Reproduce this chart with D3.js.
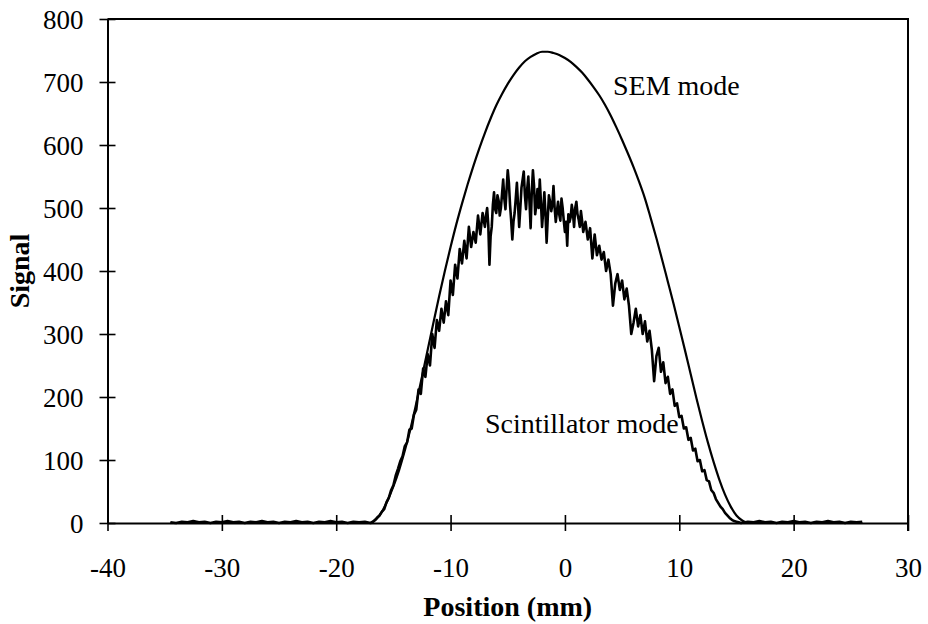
<!DOCTYPE html>
<html>
<head>
<meta charset="utf-8">
<script src="https://cdn.jsdelivr.net/npm/d3@7/dist/d3.min.js"></script>
<style>
  body { margin: 0; background: #fff; }
  text { font-family: "Liberation Serif", "Times New Roman", serif; fill: #000; }
</style>
</head>
<body>
<div id="chart"></div>
<script>
// axis ticks
const xTicks = [-40, -30, -20, -10, 0, 10, 20, 30]
const yTicks = [0, 100, 200, 300, 400, 500, 600, 700, 800]

// SEM mode profile, [position mm, signal]
const semData = [
  [-34.5, 0], [-30, 0], [-25, 0], [-20, 0], [-17, 0], [-16.5, 6], [-16, 18], [-15.5, 36],
  [-15, 58], [-14.5, 84], [-14, 115], [-13.5, 150], [-13, 190], [-12.5, 232], [-12, 275],
  [-11.5, 318], [-11, 360], [-10.5, 400], [-10, 438], [-9.5, 474], [-9, 507], [-8.5, 538],
  [-8, 567], [-7.5, 594], [-7, 619], [-6.5, 642], [-6, 663], [-5.5, 681], [-5, 697],
  [-4.5, 711], [-4, 723], [-3.5, 733], [-3, 740], [-2.5, 745], [-2, 748], [-1.5, 748],
  [-1, 746], [-0.5, 743], [0, 738], [0.5, 732], [1, 724], [1.5, 715], [2, 704], [2.5, 692],
  [3, 679], [3.5, 664], [4, 647], [4.5, 628], [5, 608], [5.5, 587], [6, 565], [6.5, 541],
  [7, 515], [7.5, 484], [8, 452], [8.5, 418], [9, 383], [9.5, 348], [10, 311], [10.5, 274],
  [11, 236], [11.5, 198], [12, 162], [12.5, 128], [13, 97], [13.5, 69], [14, 45], [14.5, 26],
  [15, 12], [15.5, 4], [16, 0], [20, 0], [26, 0]
]

// Scintillator mode profile (noisy), [position mm, signal]
const scintData = [
  [-34.5, 1], [-34, 0], [-33.5, 2], [-33, 1], [-32.5, 3], [-32, 1], [-31.5, 2], [-31, 0],
  [-30.5, 2], [-30, 1], [-29.5, 3], [-29, 1], [-28.5, 2], [-28, 0], [-27.5, 2], [-27, 1],
  [-26.5, 3], [-26, 1], [-25.5, 2], [-25, 0], [-24.5, 2], [-24, 1], [-23.5, 3], [-23, 1],
  [-22.5, 2], [-22, 0], [-21.5, 2], [-21, 1], [-20.5, 3], [-20, 1], [-19.5, 2], [-19, 0],
  [-18.5, 2], [-18, 1], [-17.5, 2], [-17.0, 0],
  [-16.8, 2], [-16.6, 5], [-16.4, 9], [-16.2, 12], [-16.0, 18], [-15.8, 22], [-15.6, 33],
  [-15.4, 40], [-15.2, 52], [-15.0, 60], [-14.8, 75], [-14.6, 86], [-14.4, 98], [-14.2, 106],
  [-14.0, 122], [-13.8, 128], [-13.6, 148], [-13.4, 150], [-13.2, 172], [-13.0, 180],
  [-12.8, 212], [-12.6, 205], [-12.4, 245], [-12.2, 232], [-12.0, 268], [-11.8, 250],
  [-11.6, 300], [-11.4, 278], [-11.2, 322], [-11.0, 305], [-10.8, 340], [-10.6, 318],
  [-10.4, 352], [-10.2, 330], [-10.0, 385], [-9.8, 362], [-9.6, 410], [-9.4, 388],
  [-9.2, 435], [-9.0, 412], [-8.8, 448], [-8.6, 420], [-8.4, 470], [-8.2, 438],
  [-8.0, 462], [-7.8, 445], [-7.6, 488], [-7.4, 458], [-7.2, 492], [-7.0, 470],
  [-6.9, 488], [-6.8, 500], [-6.7, 472], [-6.6, 410], [-6.5, 455], [-6.4, 470],
  [-6.3, 505], [-6.2, 525], [-6.1, 498], [-6.0, 492], [-5.9, 520], [-5.8, 512],
  [-5.7, 488], [-5.6, 500], [-5.5, 522], [-5.4, 545], [-5.3, 515], [-5.2, 498],
  [-5.1, 530], [-5.0, 560], [-4.9, 540], [-4.8, 505], [-4.7, 480], [-4.6, 450],
  [-4.5, 478], [-4.4, 492], [-4.3, 515], [-4.2, 540], [-4.1, 505], [-4.0, 470],
  [-3.9, 500], [-3.8, 532], [-3.7, 545], [-3.6, 558], [-3.5, 520], [-3.4, 498],
  [-3.3, 530], [-3.2, 550], [-3.1, 510], [-3.0, 468], [-2.9, 525], [-2.8, 560],
  [-2.7, 535], [-2.6, 490], [-2.5, 505], [-2.4, 530], [-2.3, 500], [-2.2, 545],
  [-2.1, 510], [-2.0, 470], [-1.9, 495], [-1.8, 525], [-1.7, 490], [-1.6, 445],
  [-1.5, 485], [-1.4, 520], [-1.3, 510], [-1.2, 495], [-1.1, 505], [-1.0, 535],
  [-0.9, 500], [-0.8, 478], [-0.7, 495], [-0.6, 510], [-0.5, 490], [-0.4, 480],
  [-0.3, 515], [-0.2, 500], [-0.1, 480], [0.0, 462], [0.1, 478], [0.2, 440],
  [0.3, 490], [0.4, 478], [0.5, 485], [0.6, 505], [0.7, 492], [0.8, 470],
  [0.9, 500], [1.0, 510], [1.1, 490], [1.2, 482], [1.3, 470], [1.4, 495],
  [1.5, 480], [1.6, 462], [1.8, 478], [2.0, 450], [2.2, 468], [2.4, 420], [2.6, 458],
  [2.8, 425], [3.0, 440], [3.2, 418], [3.4, 430], [3.6, 400], [3.8, 418],
  [4.0, 395], [4.2, 345], [4.4, 380], [4.6, 395], [4.8, 370], [5.0, 385],
  [5.2, 355], [5.4, 372], [5.6, 345], [5.8, 300], [6.0, 318], [6.2, 340],
  [6.4, 312], [6.6, 330], [6.8, 300], [7.0, 320], [7.2, 288], [7.4, 305],
  [7.6, 275], [7.8, 225], [8.0, 265], [8.2, 278], [8.4, 240], [8.6, 255],
  [8.8, 222], [9.0, 232], [9.2, 205], [9.4, 212], [9.6, 186], [9.8, 190],
  [10.0, 168], [10.2, 170], [10.4, 150], [10.6, 152], [10.8, 132], [11.0, 135],
  [11.2, 115], [11.4, 118], [11.6, 98], [11.8, 100], [12.0, 82], [12.2, 84],
  [12.4, 68], [12.6, 66], [12.8, 52], [13.0, 48], [13.2, 38], [13.4, 32],
  [13.6, 26], [13.8, 22], [14.0, 16], [14.2, 12], [14.4, 8], [14.6, 5],
  [14.8, 3], [15.0, 2], [15.2, 1], [15.4, 0],
  [16, 2], [16.5, 1], [17, 3], [17.5, 1], [18, 2], [18.5, 0], [19, 2], [19.5, 1],
  [20, 3], [20.5, 1], [21, 2], [21.5, 0], [22, 2], [22.5, 1], [23, 3], [23.5, 1],
  [24, 2], [24.5, 0], [25, 2], [25.5, 1], [26, 2]
]

// set Dimension
const dim = { width: 928, height: 624, left: 107.5, right: 908, top: 19, bottom: 523 }

const svg = d3.select('#chart')
  .append('svg')
  .attr('width', dim.width)
  .attr('height', dim.height)

const xScale = d3.scaleLinear().domain([-40, 30]).range([dim.left, dim.right])
const yScale = d3.scaleLinear().domain([0, 800]).range([dim.bottom, dim.top])

// frame (top and right)
svg.append('path')
  .attr('d', `M${dim.left},${dim.top}H${dim.right}V${dim.bottom + 8}`)
  .attr('fill', 'none')
  .attr('stroke', '#000')
  .attr('stroke-width', 2)

// x axis
const xAxis = svg.append('g')
  .attr('transform', `translate(0,${dim.bottom})`)
  .call(d3.axisBottom(xScale).tickValues(xTicks).tickFormat(d => String(d))
    .tickSize(8).tickPadding(0).tickSizeOuter(0))
xAxis.select('.domain').attr('stroke-width', 2)
xAxis.selectAll('.tick line').attr('y1', -8).attr('y2', 8).attr('stroke-width', 1.6)
xAxis.selectAll('.tick text')
  .attr('y', 0).attr('dy', 54)
  .style('font-size', '27px')
  .style('font-family', '"Liberation Serif", serif')

// y axis
const yAxis = svg.append('g')
  .attr('transform', `translate(${dim.left},0)`)
  .call(d3.axisLeft(yScale).tickValues(yTicks).tickFormat(d => String(d))
    .tickSize(8).tickPadding(0).tickSizeOuter(0))
yAxis.select('.domain').attr('stroke-width', 2)
yAxis.selectAll('.tick line').attr('x1', -8).attr('x2', 8).attr('stroke-width', 1.6)
yAxis.selectAll('.tick text')
  .attr('x', -24).attr('dy', '0.34em')
  .style('font-size', '27px')
  .style('font-family', '"Liberation Serif", serif')

// lines
const line = d3.line()
  .x(d => xScale(d[0]))
  .y(d => yScale(d[1]))

svg.append('path')
  .datum(semData)
  .attr('d', line.curve(d3.curveMonotoneX))
  .attr('fill', 'none')
  .attr('stroke', '#000')
  .attr('stroke-width', 2.2)

svg.append('path')
  .datum(scintData)
  .attr('d', line.curve(d3.curveLinear))
  .attr('fill', 'none')
  .attr('stroke', '#000')
  .attr('stroke-width', 2.6)
  .attr('stroke-linejoin', 'round')

// labels
svg.append('text')
  .attr('x', 613).attr('y', 95)
  .style('font-size', '28px')
  .text('SEM mode')

svg.append('text')
  .attr('x', 485).attr('y', 433)
  .style('font-size', '28px')
  .text('Scintillator mode')

svg.append('text')
  .attr('x', (dim.left + dim.right) / 2).attr('y', 616)
  .attr('text-anchor', 'middle')
  .style('font-size', '28px')
  .style('font-weight', 'bold')
  .text('Position (mm)')

svg.append('text')
  .attr('transform', `translate(29,${(dim.top + dim.bottom) / 2}) rotate(-90)`)
  .attr('text-anchor', 'middle')
  .style('font-size', '28px')
  .style('font-weight', 'bold')
  .text('Signal')
</script>
</body>
</html>
